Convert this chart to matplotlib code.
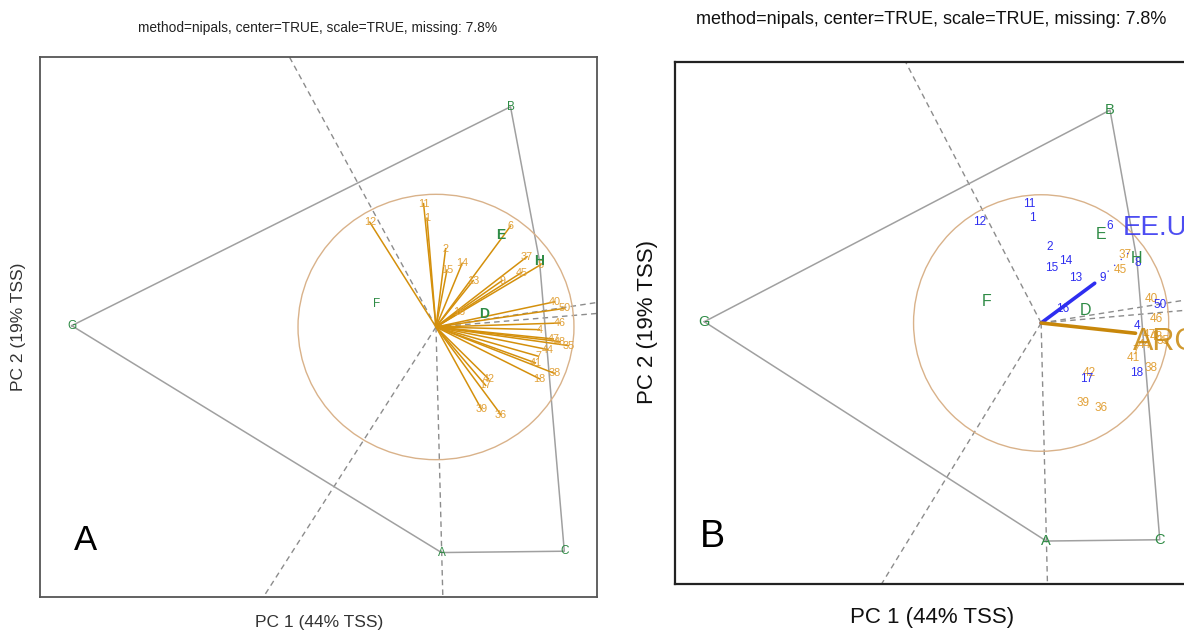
import matplotlib
matplotlib.use("Agg")
import matplotlib.pyplot as plt
from matplotlib.patches import Circle

plt.rcParams['font.family'] = ['Liberation Sans', 'DejaVu Sans']

# ---------------- data ----------------
title_text = "method=nipals, center=TRUE, scale=TRUE, missing: 7.8%"
xlabel_text = "PC 1 (44% TSS)"
ylabel_text = "PC 2 (19% TSS)"

group_names = ['A', 'B', 'C', 'D', 'E', 'F', 'G', 'H']
group_x = [0.04, 0.54, 0.93, 0.35, 0.47, -0.43, -2.64, 0.75]
group_y = [-1.70, 1.66, -1.69, 0.10, 0.69, 0.17, 0.01, 0.50]

hull_order = ['G', 'B', 'H', 'C', 'A', 'G']

var_names = ['11', '1', '12', '2', '15', '14', '13', '6', '37', '8', '45', '9', '16',
             '40', '50', '46', '4', '47', '48', '35', '44', '7', '41', '18', '38',
             '42', '17', '39', '36']
var_x = [-0.09, -0.065, -0.48, 0.07, 0.08, 0.19, 0.27, 0.54, 0.66, 0.76, 0.62, 0.48, 0.17,
         0.86, 0.93, 0.90, 0.75, 0.85, 0.90, 0.96, 0.81, 0.74, 0.72, 0.75, 0.86,
         0.38, 0.36, 0.33, 0.47]
var_y = [0.93, 0.82, 0.79, 0.59, 0.43, 0.48, 0.35, 0.76, 0.53, 0.47, 0.41, 0.35, 0.11,
         0.19, 0.14, 0.03, -0.02, -0.09, -0.11, -0.14, -0.17, -0.22, -0.27, -0.39, -0.35,
         -0.39, -0.44, -0.62, -0.66]
var_country = ['EE.UU', 'EE.UU', 'EE.UU', 'EE.UU', 'EE.UU', 'EE.UU', 'EE.UU', 'EE.UU', 'ARG',
               'EE.UU', 'ARG', 'EE.UU', 'EE.UU',
               'ARG', 'EE.UU', 'ARG', 'EE.UU', 'ARG', 'ARG', 'ARG', 'ARG', 'ARG', 'ARG',
               'EE.UU', 'ARG', 'ARG', 'EE.UU', 'ARG', 'ARG']

# perpendicular rays (dashed) : end points at the frame
ray_x = [-1.07, -1.26, 0.05, 1.20, 1.20]
ray_y = [2.05, -2.05, -2.05, 0.19, 0.105]

circle_radius = 1.0

# supplementary country vectors (panel B)
country_names = ['EE.UU', 'ARG']
country_x = [0.42, 0.74]
country_y = [0.31, -0.08]
country_label_x = [0.64, 0.72]
country_label_y = [0.74, -0.15]
country_tail_x = [0.70, 0.74]
country_tail_y = [0.56, -0.08]

panel_letters = ['A', 'B']

# ---------------- styling ----------------
ORANGE_LINE = '#D4900C'
ORANGE_TXT = '#E2A23A'
BLUE = '#2E2EF0'
GREEN = '#2E8B45'
CIRCLE = '#D9B28A'
HULL = '#A0A0A0'
DASH = '#8C8C8C'

W, H = 1184, 632
fig = plt.figure(figsize=(W / 100, H / 100), dpi=100)

xlim = (-2.87, 1.167)
ylim = (-2.035, 2.035)


def px_axes(x0, y0, x1, y1):
    return fig.add_axes([x0 / W, 1 - y1 / H, (x1 - x0) / W, (y1 - y0) / H])


def base(ax, spine_color, lw):
    ax.set_xlim(*xlim)
    ax.set_ylim(*ylim)
    ax.set_xticks([])
    ax.set_yticks([])
    for s in ax.spines.values():
        s.set_color(spine_color)
        s.set_linewidth(lw)
    for rx, ry in zip(ray_x, ray_y):
        ax.plot([0, rx], [0, ry], ls=(0, (4, 3)), color=DASH, lw=1.0, zorder=1)
    hx = [group_x[group_names.index(g)] for g in hull_order]
    hy = [group_y[group_names.index(g)] for g in hull_order]
    ax.plot(hx, hy, color=HULL, lw=1.1, zorder=2)
    ax.add_patch(Circle((0, 0), circle_radius, fill=False, ec=CIRCLE, lw=1.0, zorder=2))


# ---------------- panel A ----------------
axA = px_axes(40, 57, 597, 597)
base(axA, '#555555', 1.3)
for n, x, y in zip(var_names, var_x, var_y):
    axA.plot([0, x], [0, y], color=ORANGE_LINE, lw=1.1, zorder=3)
for n, x, y in zip(var_names, var_x, var_y):
    axA.text(x, y, n, color=ORANGE_TXT, fontsize=7.8, ha='center', va='center', zorder=4)
for g, x, y in zip(group_names, group_x, group_y):
    big = g in ('D', 'E', 'H')
    axA.text(x, y, g, color=GREEN, fontsize=10 if big else 8.5,
             fontweight='bold' if big else 'normal', ha='center', va='center', zorder=5)
fig.text(318 / W, 1 - 28 / H, title_text, fontsize=9.9, ha='center', va='center', color='#222222')
fig.text(319 / W, 1 - 622 / H, xlabel_text, fontsize=12.5, ha='center', va='center', color='#333333')
fig.text(19 / W, 1 - 327 / H, ylabel_text, fontsize=12.5, ha='center', va='center',
         rotation=90, color='#333333')
fig.text(85 / W, 1 - 540 / H, panel_letters[0], fontsize=25, ha='center', va='center')

# ---------------- panel B ----------------
axB = px_axes(675, 62, 1190, 584)
base(axB, '#222222', 1.6)
for n, x, y, c in zip(var_names, var_x, var_y, var_country):
    axB.text(x, y, n, color=BLUE if c == 'EE.UU' else ORANGE_TXT, fontsize=8.5,
             ha='center', va='center', zorder=4)
for g, x, y in zip(group_names, group_x, group_y):
    big = g in ('D', 'E', 'F', 'H')
    axB.text(x, y, g, color=GREEN, fontsize=11.5 if big else 10.5, ha='center', va='center', zorder=5)
cols = [BLUE, '#C8870A']
sizes = [20, 22]
for i, name in enumerate(country_names):
    axB.plot([0, country_x[i]], [0, country_y[i]], color=cols[i], lw=2.6, zorder=6,
             solid_capstyle='round')
    axB.plot([country_x[i], country_tail_x[i]], [country_y[i], country_tail_y[i]],
             color=cols[i], lw=0.9, ls=(0, (1, 6)), zorder=6)
    axB.text(country_label_x[i], country_label_y[i], name, color=cols[i], fontsize=sizes[i],
             ha='left', va='center', alpha=0.85, zorder=7)
fig.text(931 / W, 1 - 20 / H, title_text, fontsize=13, ha='center', va='center', color='#111111')
fig.text(932 / W, 1 - 617 / H, xlabel_text, fontsize=16, ha='center', va='center', color='#111111')
fig.text(647 / W, 1 - 322 / H, ylabel_text, fontsize=16, ha='center', va='center',
         rotation=90, color='#111111')
fig.text(712 / W, 1 - 537 / H, panel_letters[1], fontsize=27, ha='center', va='center')

fig.savefig('out.png', dpi=100)
